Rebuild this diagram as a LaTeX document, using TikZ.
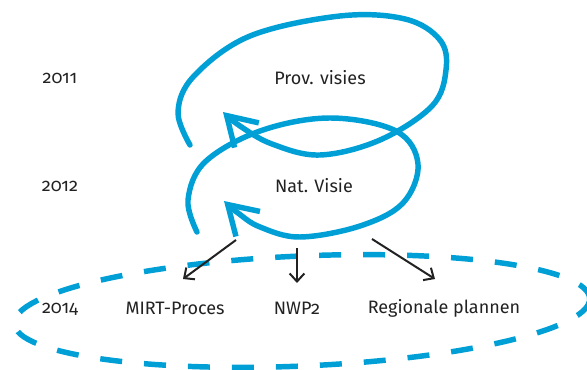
\documentclass[tikz,border=0pt]{standalone}
\usepackage{fontspec}
\setmainfont{Fira Sans}[Numbers=OldStyle]
\usetikzlibrary{arrows.meta}
\definecolor{rijksblauw}{RGB}{0,160,214}
\definecolor{tekstgrijs}{RGB}{34,34,34}

\begin{document}
\begin{tikzpicture}[x=0.75pt, y=-0.75pt,
  label/.style={text=tekstgrijs, font=\fontsize{13.5}{16}\selectfont, inner sep=0pt},
  lus/.style={rijksblauw, line width=4.1pt, line cap=round, -{Straight Barb[length=21pt, width=26pt]}},
  stippel/.style={rijksblauw, line width=4.1pt, dash pattern=on 16.5pt off 16.5pt},
  pijl/.style={tekstgrijs, line width=1.5pt, -{Straight Barb[length=6pt, width=11pt]}}]
  \useasboundingbox (0,0) rectangle (587,370);

  % Define node positions
  \node[label] (j2011) at (60,78) {2011};
  \node[label] (j2012) at (60,186) {2012};
  \node[label] (j2014) at (60,309) {2014};
  \node[label] (prov) at (320,78) {Prov. visies};
  \node[label] (nat) at (314,186) {Nat. Visie};
  \node[label] (mirt) at (175,308) {MIRT-Proces};
  \node[label] (nwp) at (297,308) {NWP2};
  \node[label] (regio) at (444,308) {Regionale plannen};

  \coordinate (uitMirt) at (236,240);
  \coordinate (uitNwp) at (297,248);
  \coordinate (uitRegio) at (372,239);
  \coordinate (naarMirt) at (183,279);
  \coordinate (naarNwp) at (297,283);
  \coordinate (naarRegio) at (435,279);

  % Draw loops
  \draw[lus] plot[smooth, tension=0.6] coordinates {(190,145) (178,112) (194,76) (250,36) (340,16) (405,19) (440,40) (446,70) (432,106) (380,140) (320,155) (272,144) (240,126) (223,112)};
  \draw[lus] plot[smooth, tension=0.6] coordinates {(197,232) (188,200) (205,162) (260,131) (330,118) (396,131) (418,164) (403,203) (360,226) (300,237) (260,227) (238,213) (224,201)};

  % Draw scope of 2014
  \draw[stippel] (302,311) ellipse [x radius=288, y radius=55, rotate=2.5];

  % Draw edges
  \draw[pijl] (uitMirt) -- (naarMirt);
  \draw[pijl] (uitNwp) -- (naarNwp);
  \draw[pijl] (uitRegio) -- (naarRegio);

\end{tikzpicture}
\end{document}
